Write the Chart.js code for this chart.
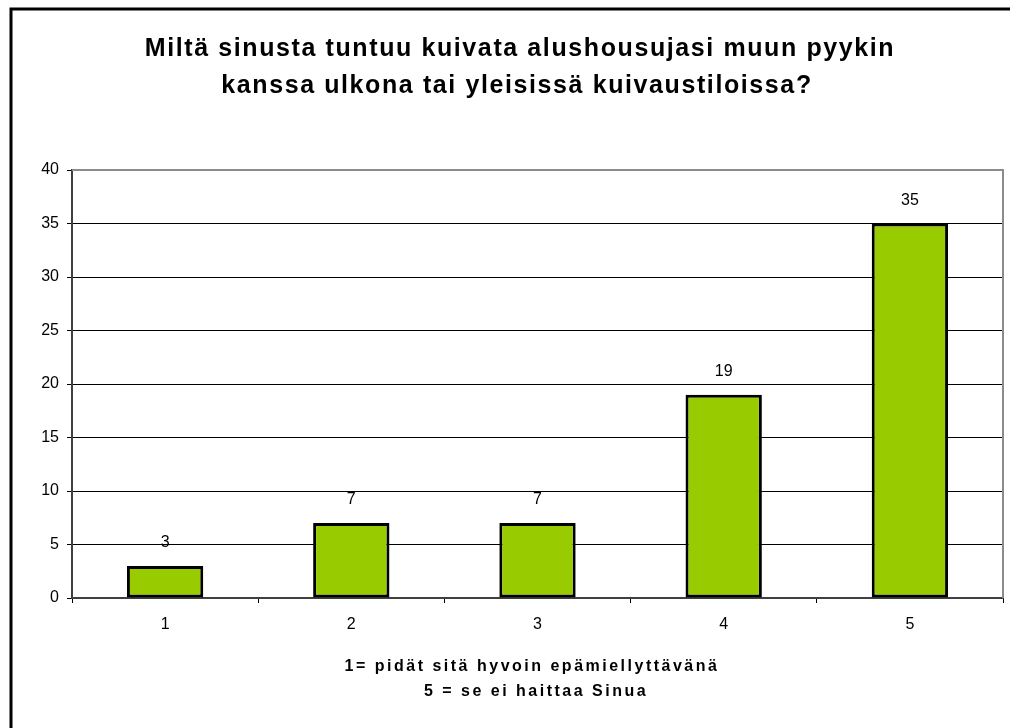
<!DOCTYPE html>
<html>
<head>
<meta charset="utf-8">
<script src="https://cdn.jsdelivr.net/npm/chart.js@4.4.1/dist/chart.umd.min.js"></script>
<style>
  body { margin: 0; background: #fff; overflow: hidden; }
  #wrap { position: relative; width: 1010px; height: 728px; }
</style>
</head>
<body>
<div id="wrap"><canvas id="answerChart"></canvas></div>
<script>
var categories = ['1', '2', '3', '4', '5'];
var counts = [3, 7, 7, 19, 35];
var yMin = 0;
var yMax = 40;
var yStep = 5;
var titleLines = [
    'Miltä sinusta tuntuu kuivata alushousujasi muun pyykin',
    'kanssa ulkona tai yleisissä kuivaustiloissa?'
];
var captionLines = [
    '1= pidät sitä hyvoin epämiellyttävänä',
    '5 = se ei haittaa Sinua'
];

var fontFamily = '"Liberation Sans", Arial, sans-serif';

// frame, title, caption and value labels
var decorPlugin = {
    id: 'decor',
    afterDatasetsDraw: function(chart) {
        var ctx = chart.ctx;
        var meta = chart.getDatasetMeta(0);
        ctx.save();
        ctx.fillStyle = '#000';
        ctx.font = '16px ' + fontFamily;
        ctx.textAlign = 'center';
        ctx.textBaseline = 'alphabetic';
        meta.data.forEach(function(bar, i) {
            ctx.fillText(String(counts[i]), bar.x, bar.y - 19);
        });
        ctx.restore();
    },
    afterDraw: function(chart) {
        var ctx = chart.ctx;
        var area = chart.chartArea;
        ctx.save();

        // plot area top / right edge
        ctx.strokeStyle = '#8c8c8c';
        ctx.lineWidth = 2;
        ctx.beginPath();
        ctx.moveTo(area.left, area.top);
        ctx.lineTo(area.right, area.top);
        ctx.lineTo(area.right, area.bottom);
        ctx.stroke();

        // outer frame (only left and top edges fall inside the picture)
        ctx.strokeStyle = '#000';
        ctx.lineWidth = 3;
        ctx.beginPath();
        ctx.moveTo(11, chart.height + 5);
        ctx.lineTo(11, 9);
        ctx.lineTo(chart.width + 5, 9);
        ctx.stroke();

        ctx.fillStyle = '#000';
        ctx.textAlign = 'center';
        ctx.textBaseline = 'alphabetic';

        ctx.font = 'bold 25px ' + fontFamily;
        ctx.letterSpacing = '1.6px';
        ctx.fillText(titleLines[0], 520, 56);
        ctx.fillText(titleLines[1], 517, 93);

        ctx.font = 'bold 16px ' + fontFamily;
        ctx.letterSpacing = '2.5px';
        ctx.fillText(captionLines[0], 532, 671);
        ctx.fillText(captionLines[1], 536, 696);

        ctx.restore();
    }
};

var answerChart = new Chart(document.getElementById('answerChart'), {
    type: 'bar',
    data: {
        labels: categories,
        datasets: [{
            data: counts,
            backgroundColor: '#99cc00',
            borderColor: '#000',
            borderWidth: 3,
            borderSkipped: false,
            categoryPercentage: 1,
            barPercentage: 0.41
        }]
    },
    options: {
        responsive: true,
        maintainAspectRatio: false,
        animation: false,
        layout: {
            padding: { top: 170, left: 0, right: 7, bottom: 0 }
        },
        plugins: {
            legend: { display: false },
            title: { display: false },
            tooltip: { enabled: false }
        },
        scales: {
            x: {
                grid: {
                    offset: true,
                    drawOnChartArea: false,
                    color: '#000',
                    tickLength: 5
                },
                border: { color: '#404040', width: 2 },
                ticks: {
                    color: '#000',
                    font: { family: fontFamily, size: 16 },
                    padding: 12
                },
                afterFit: function(scale) {
                    scale.height = 130;
                    scale.paddingLeft = 0;
                    scale.paddingRight = 0;
                }
            },
            y: {
                min: yMin,
                max: yMax,
                grid: {
                    color: '#000',
                    tickLength: 5
                },
                border: { color: '#404040', width: 2 },
                ticks: {
                    stepSize: yStep,
                    color: '#000',
                    font: { family: fontFamily, size: 16 },
                    padding: 8
                },
                afterFit: function(scale) {
                    scale.width = 72;
                    scale.paddingTop = 0;
                    scale.paddingBottom = 0;
                }
            }
        }
    },
    plugins: [decorPlugin]
});
</script>
</body>
</html>
